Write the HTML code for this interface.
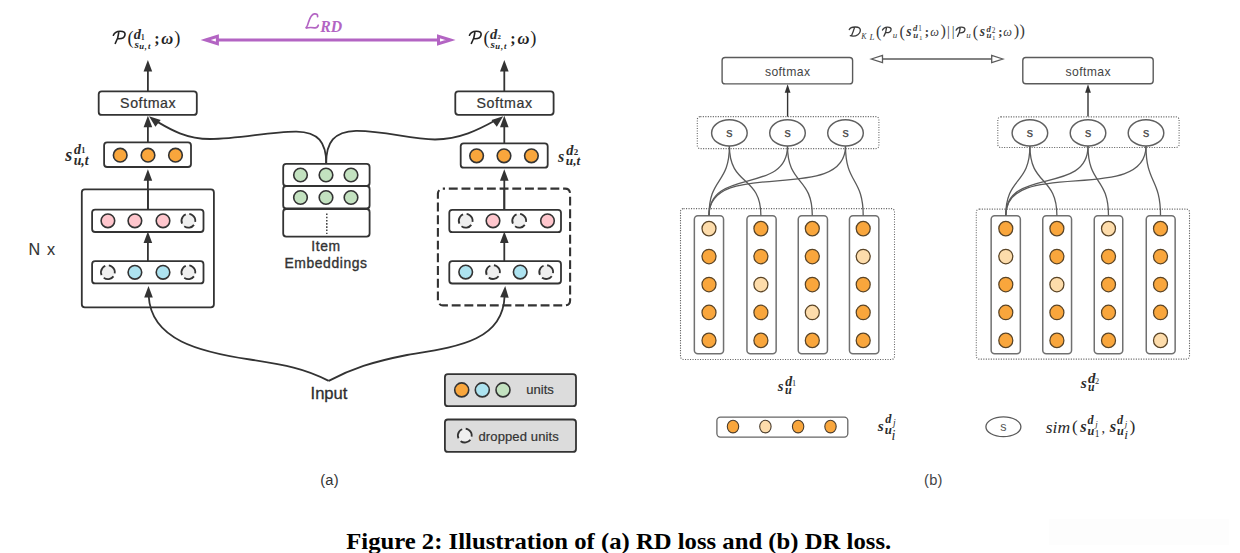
<!DOCTYPE html>
<html><head><meta charset="utf-8"><style>
html,body{margin:0;padding:0;background:#fff;overflow:hidden;}
svg{display:block;}
svg{font-family:"Liberation Sans",sans-serif;}
.sm{font-size:14.2px;text-anchor:middle;fill:#333;letter-spacing:0.6px;stroke:#333;stroke-width:0.22px;}
.ie{font-size:13.9px;text-anchor:middle;fill:#333;letter-spacing:0.6px;stroke:#333;stroke-width:0.35px;}
.inp{font-size:16.6px;text-anchor:middle;fill:#2e2e2e;stroke:#2e2e2e;stroke-width:0.3px;}
.nx{font-size:16.2px;fill:#333;stroke:#333;stroke-width:0.1px;letter-spacing:1.2px;}
.lg{font-size:13px;fill:#333;stroke:#333;stroke-width:0.2px;}
.lab{font-size:14.7px;fill:#333;letter-spacing:0.2px;}
.bsm{font-size:12.2px;text-anchor:middle;fill:#444;letter-spacing:0.4px;}
.bs{font-size:12.5px;text-anchor:middle;fill:#444;stroke:#444;stroke-width:0.25px;}
.mf text{font-family:"Liberation Serif",serif;}
.mf{fill:#222;}
.cap{font-family:"Liberation Serif",serif;font-weight:bold;font-size:23.4px;fill:#000;}
</style></head><body>
<svg width="1240" height="553" viewBox="0 0 1240 553">
<rect x="0" y="0" width="1240" height="553" fill="#fff"/>
<line x1="147.9" y1="91.3" x2="147.9" y2="70" stroke="#333" stroke-width="1.8"/>
<path d="M147.9 60 L143.6 71.5 L152.20000000000002 71.5 Z" fill="#333" transform="rotate(0 147.9 60)"/>
<line x1="147.9" y1="143.3" x2="147.9" y2="125" stroke="#333" stroke-width="1.8"/>
<path d="M147.9 115.8 L143.6 127.3 L152.20000000000002 127.3 Z" fill="#333" transform="rotate(0 147.9 115.8)"/>
<line x1="147.9" y1="209.6" x2="147.9" y2="180" stroke="#333" stroke-width="1.8"/>
<path d="M147.9 169.2 L143.6 180.7 L152.20000000000002 180.7 Z" fill="#333" transform="rotate(0 147.9 169.2)"/>
<line x1="147.9" y1="261.2" x2="147.9" y2="240" stroke="#333" stroke-width="1.8"/>
<path d="M147.9 231.6 L143.6 243.1 L152.20000000000002 243.1 Z" fill="#333" transform="rotate(0 147.9 231.6)"/>
<line x1="504.3" y1="91.3" x2="504.3" y2="70" stroke="#333" stroke-width="1.8"/>
<path d="M504.3 60 L500.0 71.5 L508.6 71.5 Z" fill="#333" transform="rotate(0 504.3 60)"/>
<line x1="504.3" y1="143.3" x2="504.3" y2="125" stroke="#333" stroke-width="1.8"/>
<path d="M504.3 115.8 L500.0 127.3 L508.6 127.3 Z" fill="#333" transform="rotate(0 504.3 115.8)"/>
<line x1="504.3" y1="209.6" x2="504.3" y2="180" stroke="#333" stroke-width="1.8"/>
<path d="M504.3 169.2 L500.0 180.7 L508.6 180.7 Z" fill="#333" transform="rotate(0 504.3 169.2)"/>
<line x1="504.3" y1="261.2" x2="504.3" y2="240" stroke="#333" stroke-width="1.8"/>
<path d="M504.3 231.6 L500.0 243.1 L508.6 243.1 Z" fill="#333" transform="rotate(0 504.3 231.6)"/>
<rect x="98.7" y="91.3" width="98.1" height="23.6" rx="3" fill="#fff" stroke="#333" stroke-width="1.8" />
<rect x="455.3" y="91.3" width="98.3" height="23.5" rx="3" fill="#fff" stroke="#333" stroke-width="1.8" />
<text x="148.20000000000002" y="107.9" class="sm">Softmax</text>
<text x="504.6" y="107.9" class="sm">Softmax</text>
<rect x="104.1" y="142.4" width="86.9" height="24.6" rx="3" fill="#fff" stroke="#333" stroke-width="1.8" />
<rect x="460.7" y="143.3" width="87.0" height="24.4" rx="3" fill="#fff" stroke="#333" stroke-width="1.8" />
<circle cx="120.2" cy="155.2" r="6.8" fill="#F9A63C" stroke="#333" stroke-width="1.6" />
<circle cx="148.0" cy="155.2" r="6.8" fill="#F9A63C" stroke="#333" stroke-width="1.6" />
<circle cx="175.5" cy="155.2" r="6.8" fill="#F9A63C" stroke="#333" stroke-width="1.6" />
<circle cx="476.6" cy="155.8" r="6.8" fill="#F9A63C" stroke="#333" stroke-width="1.6" />
<circle cx="504.0" cy="155.8" r="6.8" fill="#F9A63C" stroke="#333" stroke-width="1.6" />
<circle cx="531.4" cy="155.8" r="6.8" fill="#F9A63C" stroke="#333" stroke-width="1.6" />
<rect x="81.8" y="189.4" width="132.1" height="117.9" rx="3" fill="none" stroke="#333" stroke-width="1.8"/>
<rect x="437.9" y="188.6" width="132.2" height="116.8" rx="5" fill="none" stroke="#333" stroke-width="2.1" stroke-dasharray="8.9 3.8" stroke-dashoffset="6.8"/>
<rect x="92.1" y="209.6" width="111.4" height="22.4" rx="3" fill="#fff" stroke="#333" stroke-width="1.8" />
<rect x="92.1" y="261.2" width="111.4" height="22.2" rx="3" fill="#fff" stroke="#333" stroke-width="1.8" />
<rect x="449.3" y="209.8" width="111.7" height="22.4" rx="3" fill="#fff" stroke="#333" stroke-width="1.8" />
<rect x="449.3" y="261.2" width="111.7" height="22.3" rx="3" fill="#fff" stroke="#333" stroke-width="1.8" />
<line x1="147.9" y1="189" x2="147.9" y2="209.6" stroke="#333" stroke-width="1.8"/>
<line x1="504.3" y1="189" x2="504.3" y2="209.8" stroke="#333" stroke-width="1.8"/>
<circle cx="107.9" cy="220.8" r="6.8" fill="#FFC6CD" stroke="#333" stroke-width="1.6" />
<circle cx="134.9" cy="220.8" r="6.8" fill="#FFC6CD" stroke="#333" stroke-width="1.6" />
<circle cx="163.0" cy="220.8" r="6.8" fill="#FFC6CD" stroke="#333" stroke-width="1.6" />
<circle cx="188.4" cy="220.8" r="6.9" fill="#efefef" stroke="#333" stroke-width="1.8" stroke-dasharray="10.9 3.55" transform="rotate(36 188.4 220.8)"/>
<circle cx="107.9" cy="272.3" r="6.9" fill="#efefef" stroke="#333" stroke-width="1.8" stroke-dasharray="10.9 3.55" transform="rotate(36 107.9 272.3)"/>
<circle cx="134.9" cy="272.3" r="6.8" fill="#ADE3F0" stroke="#333" stroke-width="1.6" />
<circle cx="163.0" cy="272.3" r="6.8" fill="#ADE3F0" stroke="#333" stroke-width="1.6" />
<circle cx="188.4" cy="272.3" r="6.9" fill="#efefef" stroke="#333" stroke-width="1.8" stroke-dasharray="10.9 3.55" transform="rotate(36 188.4 272.3)"/>
<circle cx="465.7" cy="220.8" r="6.9" fill="#efefef" stroke="#333" stroke-width="1.8" stroke-dasharray="10.9 3.55" transform="rotate(36 465.7 220.8)"/>
<circle cx="493.0" cy="220.8" r="6.8" fill="#FFC6CD" stroke="#333" stroke-width="1.6" />
<circle cx="519.2" cy="220.8" r="6.9" fill="#efefef" stroke="#333" stroke-width="1.8" stroke-dasharray="10.9 3.55" transform="rotate(36 519.2 220.8)"/>
<circle cx="547.5" cy="220.8" r="6.8" fill="#FFC6CD" stroke="#333" stroke-width="1.6" />
<circle cx="465.7" cy="272.1" r="6.8" fill="#ADE3F0" stroke="#333" stroke-width="1.6" />
<circle cx="493.0" cy="272.1" r="6.9" fill="#efefef" stroke="#333" stroke-width="1.8" stroke-dasharray="10.9 3.55" transform="rotate(36 493.0 272.1)"/>
<circle cx="520.2" cy="272.1" r="6.8" fill="#ADE3F0" stroke="#333" stroke-width="1.6" />
<circle cx="546.2" cy="272.1" r="6.9" fill="#efefef" stroke="#333" stroke-width="1.8" stroke-dasharray="10.9 3.55" transform="rotate(36 546.2 272.1)"/>
<rect x="283.2" y="163.9" width="86.4" height="22.0" rx="3" fill="#fff" stroke="#333" stroke-width="1.8" />
<rect x="283.2" y="186.0" width="86.4" height="22.5" rx="3" fill="#fff" stroke="#333" stroke-width="1.8" />
<rect x="283.2" y="209.0" width="86.4" height="27.6" rx="3" fill="#fff" stroke="#333" stroke-width="1.8" />
<circle cx="300.5" cy="175.0" r="6.8" fill="#C3E2C0" stroke="#333" stroke-width="1.6" />
<circle cx="326.0" cy="175.0" r="6.8" fill="#C3E2C0" stroke="#333" stroke-width="1.6" />
<circle cx="351.0" cy="175.0" r="6.8" fill="#C3E2C0" stroke="#333" stroke-width="1.6" />
<circle cx="300.5" cy="197.5" r="6.8" fill="#C3E2C0" stroke="#333" stroke-width="1.6" />
<circle cx="326.0" cy="197.5" r="6.8" fill="#C3E2C0" stroke="#333" stroke-width="1.6" />
<circle cx="351.0" cy="197.5" r="6.8" fill="#C3E2C0" stroke="#333" stroke-width="1.6" />
<line x1="326.8" y1="213.5" x2="326.8" y2="234" stroke="#333" stroke-width="1.4" stroke-dasharray="1.6 1.6"/>
<text x="326" y="250.8" class="ie">Item</text>
<text x="326" y="267.7" class="ie">Embeddings</text>
<path d="M326.3 163.9 C326.3 142 318 132 296.5 131.6 C270 131.3 240 139 210 139 C185 139 168 128 156 121" fill="none" stroke="#333" stroke-width="1.8" />
<path d="M326.1 163.9 C326.1 142 334 131.5 356 130.8 C385 130.5 410 139.5 435 139.5 C460 139 478 130 496 120" fill="none" stroke="#333" stroke-width="1.8" />
<path d="M149.0 116.3 L144.7 127.8 L153.3 127.8 Z" fill="#333" transform="rotate(-52 149.0 116.3)"/>
<path d="M503.2 116.3 L498.9 127.8 L507.5 127.8 Z" fill="#333" transform="rotate(52 503.2 116.3)"/>
<path d="M328.7 380.9 C305 368.5 285 365 250 359.5 C200 352 151 340 148.7 296" fill="none" stroke="#333" stroke-width="1.8" />
<path d="M328.7 380.9 C352 368.5 372 362 407 355 C455 347 503 342 504.6 296" fill="none" stroke="#333" stroke-width="1.8" />
<path d="M148.5 286.0 L144.2 297.5 L152.8 297.5 Z" fill="#333" transform="rotate(0 148.5 286.0)"/>
<path d="M505.2 286.0 L500.9 297.5 L509.5 297.5 Z" fill="#333" transform="rotate(4 505.2 286.0)"/>
<text x="329" y="398.5" class="inp">Input</text>
<text x="28.5" y="254.9" class="nx">N x</text>
<rect x="444.9" y="374.2" width="131.1" height="32.0" rx="3" fill="#dcdcdc" stroke="#333" stroke-width="1.8"/>
<rect x="444.9" y="419.5" width="131.1" height="32.4" rx="3" fill="#dcdcdc" stroke="#333" stroke-width="1.8"/>
<circle cx="461.7" cy="389.9" r="7.0" fill="#F9A63C" stroke="#333" stroke-width="1.6" />
<circle cx="482.3" cy="389.9" r="7.0" fill="#ADE3F0" stroke="#333" stroke-width="1.6" />
<circle cx="503.0" cy="389.9" r="7.0" fill="#C3E2C0" stroke="#333" stroke-width="1.6" />
<text x="526.3" y="393.7" class="lg">units</text>
<circle cx="464.8" cy="435.6" r="6.9" fill="#efefef" stroke="#333" stroke-width="1.8" stroke-dasharray="10.9 3.55" transform="rotate(36 464.8 435.6)"/>
<text x="478.5" y="440.9" class="lg" letter-spacing="0.12">dropped units</text>
<text x="320.2" y="485.1" class="lab">(a)</text>
<path d="M113.40 35.20 C114.60 32.40 117.00 31.40 120.00 31.30 C123.80 31.20 125.40 32.60 125.00 34.80 C124.50 37.40 121.60 38.90 118.20 38.70 M118.90 31.80 C118.50 36.20 117.00 40.60 115.30 43.40" fill="none" stroke="#222" stroke-width="1.65" stroke-linecap="round"/>
<g class="mf"><text x="127.39999999999999" y="43.6" font-size="18.4">(</text><text x="154.2" y="44.2" font-size="16" font-weight="bold">;</text><text x="161.3" y="43.6" font-size="16.5" font-style="italic" font-weight="bold">ω</text><text x="174.2" y="43.7" font-size="18.4">)</text></g>
<text x="133.86" y="39.06" font-size="14.47" font-family="Liberation Serif" font-weight="bold" font-style="italic" fill="#2b2b2b">d</text>
<text x="141.03" y="39.64" font-size="7.18" font-family="Liberation Serif" font-weight="bold" font-style="normal" fill="#2b2b2b">1</text>
<text x="134.46" y="48.23" font-size="11.33" font-family="Liberation Serif" font-weight="bold" font-style="italic" fill="#2b2b2b">s</text>
<text x="139.20" y="49.3" font-size="8.6" font-family="Liberation Serif" font-style="italic" font-weight="bold" fill="#222" letter-spacing="0.9">u,t</text>
<path d="M469.50 35.20 C470.70 32.40 473.10 31.40 476.10 31.30 C479.90 31.20 481.50 32.60 481.10 34.80 C480.60 37.40 477.70 38.90 474.30 38.70 M475.00 31.80 C474.60 36.20 473.10 40.60 471.40 43.40" fill="none" stroke="#222" stroke-width="1.65" stroke-linecap="round"/>
<g class="mf"><text x="483.5" y="43.6" font-size="18.4">(</text><text x="510.29999999999995" y="44.2" font-size="16" font-weight="bold">;</text><text x="517.4" y="43.6" font-size="16.5" font-style="italic" font-weight="bold">ω</text><text x="530.3" y="43.7" font-size="18.4">)</text></g>
<text x="489.96" y="39.06" font-size="14.47" font-family="Liberation Serif" font-weight="bold" font-style="italic" fill="#2b2b2b">d</text>
<text x="497.43" y="39.36" font-size="6.75" font-family="Liberation Serif" font-weight="bold" font-style="normal" fill="#2b2b2b">2</text>
<text x="490.56" y="48.23" font-size="11.33" font-family="Liberation Serif" font-weight="bold" font-style="italic" fill="#2b2b2b">s</text>
<text x="495.30" y="49.3" font-size="8.6" font-family="Liberation Serif" font-style="italic" font-weight="bold" fill="#222" letter-spacing="0.9">u,t</text>
<line x1="214" y1="40" x2="441" y2="40" stroke="#B364C3" stroke-width="3"/>
<path d="M205.6 40 L217.4 36.3 L217.4 43.7 Z" fill="#fff" stroke="#B364C3" stroke-width="3" stroke-linejoin="miter"/>
<path d="M450.5 40 L438.5 36.3 L438.5 43.7 Z" fill="#fff" stroke="#B364C3" stroke-width="3" stroke-linejoin="miter"/>
<path d="M317.6 16.6 C317.9 14.4 316.2 13.6 314.3 13.9 C311.2 14.4 309.6 18.6 308.4 22.6 C307.8 25.1 307.1 27.0 305.7 28.2 C308.2 27.4 311.2 27.3 314.6 27.8 C316.6 28.1 317.8 26.6 318.3 25.2" fill="none" stroke="#B364C3" stroke-width="1.7" stroke-linecap="round"/>
<text x="320.3" y="31.8" font-size="15.8" font-weight="bold" font-style="italic" fill="#B364C3" font-family="Liberation Serif">RD</text>
<text x="65.19" y="160.82" font-size="17.92" font-family="Liberation Serif" font-weight="bold" font-style="italic" fill="#2b2b2b">s</text>
<text x="74.06" y="153.66" font-size="13.9" font-family="Liberation Serif" font-weight="bold" font-style="italic" fill="#2b2b2b">d</text>
<text x="81.23" y="153.3" font-size="8.33" font-family="Liberation Serif" font-weight="bold" font-style="normal" fill="#2b2b2b">1</text>
<text x="73.65" y="164.79" font-size="13.78" font-family="Liberation Serif" font-weight="bold" font-style="italic" fill="#2b2b2b">u,t</text>
<text x="558.08" y="161.76" font-size="16.09" font-family="Liberation Serif" font-weight="bold" font-style="italic" fill="#2b2b2b">s</text>
<text x="566.16" y="154.76" font-size="14.33" font-family="Liberation Serif" font-weight="bold" font-style="italic" fill="#2b2b2b">d</text>
<text x="573.84" y="154.89" font-size="8.93" font-family="Liberation Serif" font-weight="bold" font-style="normal" fill="#2b2b2b">2</text>
<text x="565.77" y="164.94" font-size="13.35" font-family="Liberation Serif" font-weight="bold" font-style="italic" fill="#2b2b2b">u,t</text>
<rect x="722.1" y="57.5" width="130.5" height="26.4" rx="3" fill="#fff" stroke="#5a5a5a" stroke-width="1.4" />
<text x="787.65" y="75.8" class="bsm">softmax</text>
<line x1="787.6" y1="116.6" x2="787.6" y2="91" stroke="#333" stroke-width="1.4"/>
<path d="M787.6 84.3 L784.7 92.8 L790.5 92.8 Z" fill="#333"/>
<rect x="697.3" y="116.6" width="181.6" height="32.0" rx="3" fill="none" stroke="#666" stroke-width="1.1" stroke-dasharray="1.1 1.4"/>
<rect x="680.5" y="208.6" width="214.0" height="150.9" rx="3" fill="none" stroke="#666" stroke-width="1.1" stroke-dasharray="1.1 1.4"/>
<rect x="694.35" y="215.75" width="29.199999999999932" height="137.9" rx="3.5" fill="#fff" stroke="#707070" stroke-width="1.5" />
<rect x="746.95" y="215.75" width="29.199999999999932" height="137.9" rx="3.5" fill="#fff" stroke="#707070" stroke-width="1.5" />
<rect x="798.25" y="215.75" width="29.200000000000045" height="137.9" rx="3.5" fill="#fff" stroke="#707070" stroke-width="1.5" />
<rect x="849.45" y="215.75" width="29.399999999999977" height="137.9" rx="3.5" fill="#fff" stroke="#707070" stroke-width="1.5" />
<path d="M729.4 146 C729.4 184.7 709.0 176.9 709.0 215.6" fill="none" stroke="#5a5a5a" stroke-width="1.3"/>
<path d="M729.4 146 C729.4 186.7 760.9 174.9 760.9 215.6" fill="none" stroke="#5a5a5a" stroke-width="1.3"/>
<path d="M787.5 146 C787.5 195.1 709.0 166.5 709.0 215.6" fill="none" stroke="#5a5a5a" stroke-width="1.3"/>
<path d="M787.5 146 C787.5 185.5 812.3 176.1 812.3 215.6" fill="none" stroke="#5a5a5a" stroke-width="1.3"/>
<path d="M845.5 146 C845.5 205.6 709.0 156.0 709.0 215.6" fill="none" stroke="#5a5a5a" stroke-width="1.3"/>
<path d="M845.5 146 C845.5 184.2 863.2 177.4 863.2 215.6" fill="none" stroke="#5a5a5a" stroke-width="1.3"/>
<ellipse cx="729.4" cy="132.9" rx="17.8" ry="13.1" fill="#fff" stroke="#606060" stroke-width="1.45"/>
<text x="729.4" y="137" class="bs">s</text>
<ellipse cx="787.5" cy="132.9" rx="17.8" ry="13.1" fill="#fff" stroke="#606060" stroke-width="1.45"/>
<text x="787.5" y="137" class="bs">s</text>
<ellipse cx="845.5" cy="132.9" rx="17.8" ry="13.1" fill="#fff" stroke="#606060" stroke-width="1.45"/>
<text x="845.5" y="137" class="bs">s</text>
<ellipse cx="709.0" cy="228.6" rx="7.0" ry="7.25" fill="#FDDCAB" stroke="#5a4426" stroke-width="1.25"/>
<ellipse cx="709.0" cy="256.55" rx="7.0" ry="7.25" fill="#F9A63C" stroke="#5a4426" stroke-width="1.25"/>
<ellipse cx="709.0" cy="284.5" rx="7.0" ry="7.25" fill="#F9A63C" stroke="#5a4426" stroke-width="1.25"/>
<ellipse cx="709.0" cy="312.45" rx="7.0" ry="7.25" fill="#F9A63C" stroke="#5a4426" stroke-width="1.25"/>
<ellipse cx="709.0" cy="340.4" rx="7.0" ry="7.25" fill="#F9A63C" stroke="#5a4426" stroke-width="1.25"/>
<ellipse cx="760.9" cy="228.6" rx="7.0" ry="7.25" fill="#F9A63C" stroke="#5a4426" stroke-width="1.25"/>
<ellipse cx="760.9" cy="256.55" rx="7.0" ry="7.25" fill="#F9A63C" stroke="#5a4426" stroke-width="1.25"/>
<ellipse cx="760.9" cy="284.5" rx="7.0" ry="7.25" fill="#FDDCAB" stroke="#5a4426" stroke-width="1.25"/>
<ellipse cx="760.9" cy="312.45" rx="7.0" ry="7.25" fill="#F9A63C" stroke="#5a4426" stroke-width="1.25"/>
<ellipse cx="760.9" cy="340.4" rx="7.0" ry="7.25" fill="#F9A63C" stroke="#5a4426" stroke-width="1.25"/>
<ellipse cx="812.3" cy="228.6" rx="7.0" ry="7.25" fill="#F9A63C" stroke="#5a4426" stroke-width="1.25"/>
<ellipse cx="812.3" cy="256.55" rx="7.0" ry="7.25" fill="#F9A63C" stroke="#5a4426" stroke-width="1.25"/>
<ellipse cx="812.3" cy="284.5" rx="7.0" ry="7.25" fill="#F9A63C" stroke="#5a4426" stroke-width="1.25"/>
<ellipse cx="812.3" cy="312.45" rx="7.0" ry="7.25" fill="#FDDCAB" stroke="#5a4426" stroke-width="1.25"/>
<ellipse cx="812.3" cy="340.4" rx="7.0" ry="7.25" fill="#F9A63C" stroke="#5a4426" stroke-width="1.25"/>
<ellipse cx="863.2" cy="228.6" rx="7.0" ry="7.25" fill="#F9A63C" stroke="#5a4426" stroke-width="1.25"/>
<ellipse cx="863.2" cy="256.55" rx="7.0" ry="7.25" fill="#FDDCAB" stroke="#5a4426" stroke-width="1.25"/>
<ellipse cx="863.2" cy="284.5" rx="7.0" ry="7.25" fill="#F9A63C" stroke="#5a4426" stroke-width="1.25"/>
<ellipse cx="863.2" cy="312.45" rx="7.0" ry="7.25" fill="#F9A63C" stroke="#5a4426" stroke-width="1.25"/>
<ellipse cx="863.2" cy="340.4" rx="7.0" ry="7.25" fill="#F9A63C" stroke="#5a4426" stroke-width="1.25"/>
<rect x="1022.8" y="57.5" width="130.4" height="26.2" rx="3" fill="#fff" stroke="#5a5a5a" stroke-width="1.4" />
<text x="1088.3" y="75.8" class="bsm">softmax</text>
<line x1="1088.0" y1="116.6" x2="1088.0" y2="91" stroke="#333" stroke-width="1.4"/>
<path d="M1088.0 84.3 L1085.1 92.8 L1090.9 92.8 Z" fill="#333"/>
<rect x="997.8" y="116.9" width="181.3" height="30.6" rx="3" fill="none" stroke="#666" stroke-width="1.1" stroke-dasharray="1.1 1.4"/>
<rect x="976.3" y="209.1" width="213.2" height="150.0" rx="3" fill="none" stroke="#666" stroke-width="1.1" stroke-dasharray="1.1 1.4"/>
<rect x="991.15" y="215.75" width="29.200000000000045" height="137.9" rx="3.5" fill="#fff" stroke="#707070" stroke-width="1.5" />
<rect x="1042.75" y="215.75" width="28.799999999999955" height="137.9" rx="3.5" fill="#fff" stroke="#707070" stroke-width="1.5" />
<rect x="1094.25" y="215.75" width="28.5" height="137.9" rx="3.5" fill="#fff" stroke="#707070" stroke-width="1.5" />
<rect x="1146.25" y="215.75" width="28.90000000000009" height="137.9" rx="3.5" fill="#fff" stroke="#707070" stroke-width="1.5" />
<path d="M1029.9 146 C1029.9 185.3 1005.8 176.3 1005.8 215.6" fill="none" stroke="#5a5a5a" stroke-width="1.3"/>
<path d="M1029.9 146 C1029.9 185.9 1056.9 175.7 1056.9 215.6" fill="none" stroke="#5a5a5a" stroke-width="1.3"/>
<path d="M1088.0 146 C1088.0 195.8 1005.8 165.8 1005.8 215.6" fill="none" stroke="#5a5a5a" stroke-width="1.3"/>
<path d="M1088.0 146 C1088.0 184.7 1108.5 176.9 1108.5 215.6" fill="none" stroke="#5a5a5a" stroke-width="1.3"/>
<path d="M1146.0 146 C1146.0 206.2 1005.8 155.4 1005.8 215.6" fill="none" stroke="#5a5a5a" stroke-width="1.3"/>
<path d="M1146.0 146 C1146.0 183.6 1160.5 178.0 1160.5 215.6" fill="none" stroke="#5a5a5a" stroke-width="1.3"/>
<ellipse cx="1029.9" cy="132.9" rx="17.8" ry="13.1" fill="#fff" stroke="#606060" stroke-width="1.45"/>
<text x="1029.9" y="137" class="bs">s</text>
<ellipse cx="1088.0" cy="132.9" rx="17.8" ry="13.1" fill="#fff" stroke="#606060" stroke-width="1.45"/>
<text x="1088.0" y="137" class="bs">s</text>
<ellipse cx="1146.0" cy="132.9" rx="17.8" ry="13.1" fill="#fff" stroke="#606060" stroke-width="1.45"/>
<text x="1146.0" y="137" class="bs">s</text>
<ellipse cx="1005.8" cy="228.6" rx="7.0" ry="7.25" fill="#F9A63C" stroke="#5a4426" stroke-width="1.25"/>
<ellipse cx="1005.8" cy="256.55" rx="7.0" ry="7.25" fill="#FDDCAB" stroke="#5a4426" stroke-width="1.25"/>
<ellipse cx="1005.8" cy="284.5" rx="7.0" ry="7.25" fill="#F9A63C" stroke="#5a4426" stroke-width="1.25"/>
<ellipse cx="1005.8" cy="312.45" rx="7.0" ry="7.25" fill="#F9A63C" stroke="#5a4426" stroke-width="1.25"/>
<ellipse cx="1005.8" cy="340.4" rx="7.0" ry="7.25" fill="#F9A63C" stroke="#5a4426" stroke-width="1.25"/>
<ellipse cx="1056.9" cy="228.6" rx="7.0" ry="7.25" fill="#F9A63C" stroke="#5a4426" stroke-width="1.25"/>
<ellipse cx="1056.9" cy="256.55" rx="7.0" ry="7.25" fill="#F9A63C" stroke="#5a4426" stroke-width="1.25"/>
<ellipse cx="1056.9" cy="284.5" rx="7.0" ry="7.25" fill="#FDDCAB" stroke="#5a4426" stroke-width="1.25"/>
<ellipse cx="1056.9" cy="312.45" rx="7.0" ry="7.25" fill="#F9A63C" stroke="#5a4426" stroke-width="1.25"/>
<ellipse cx="1056.9" cy="340.4" rx="7.0" ry="7.25" fill="#F9A63C" stroke="#5a4426" stroke-width="1.25"/>
<ellipse cx="1108.5" cy="228.6" rx="7.0" ry="7.25" fill="#FDDCAB" stroke="#5a4426" stroke-width="1.25"/>
<ellipse cx="1108.5" cy="256.55" rx="7.0" ry="7.25" fill="#F9A63C" stroke="#5a4426" stroke-width="1.25"/>
<ellipse cx="1108.5" cy="284.5" rx="7.0" ry="7.25" fill="#F9A63C" stroke="#5a4426" stroke-width="1.25"/>
<ellipse cx="1108.5" cy="312.45" rx="7.0" ry="7.25" fill="#F9A63C" stroke="#5a4426" stroke-width="1.25"/>
<ellipse cx="1108.5" cy="340.4" rx="7.0" ry="7.25" fill="#F9A63C" stroke="#5a4426" stroke-width="1.25"/>
<ellipse cx="1160.5" cy="228.6" rx="7.0" ry="7.25" fill="#F9A63C" stroke="#5a4426" stroke-width="1.25"/>
<ellipse cx="1160.5" cy="256.55" rx="7.0" ry="7.25" fill="#F9A63C" stroke="#5a4426" stroke-width="1.25"/>
<ellipse cx="1160.5" cy="284.5" rx="7.0" ry="7.25" fill="#F9A63C" stroke="#5a4426" stroke-width="1.25"/>
<ellipse cx="1160.5" cy="312.45" rx="7.0" ry="7.25" fill="#F9A63C" stroke="#5a4426" stroke-width="1.25"/>
<ellipse cx="1160.5" cy="340.4" rx="7.0" ry="7.25" fill="#FDDCAB" stroke="#5a4426" stroke-width="1.25"/>
<line x1="882.5" y1="59" x2="991.7" y2="59" stroke="#5a5a5a" stroke-width="1.3"/>
<path d="M871.3 59 L882.5 55.3 L882.5 62.7 Z" fill="#fff" stroke="#5a5a5a" stroke-width="1.3"/>
<path d="M1002.9 59 L991.7 55.3 L991.7 62.7 Z" fill="#fff" stroke="#5a5a5a" stroke-width="1.3"/>
<rect x="716.9" y="417.1" width="130.9" height="20.0" rx="3.5" fill="#fff" stroke="#666" stroke-width="1.3" />
<ellipse cx="733" cy="426.6" rx="5.7" ry="6.3" fill="#F9A63C" stroke="#4a3c2c" stroke-width="1.1"/>
<ellipse cx="765.4" cy="426.6" rx="5.7" ry="6.3" fill="#FDDCAB" stroke="#4a3c2c" stroke-width="1.1"/>
<ellipse cx="798.1" cy="426.6" rx="5.7" ry="6.3" fill="#F9A63C" stroke="#4a3c2c" stroke-width="1.1"/>
<ellipse cx="830.5" cy="426.6" rx="5.7" ry="6.3" fill="#F9A63C" stroke="#4a3c2c" stroke-width="1.1"/>
<ellipse cx="1003.4" cy="426.8" rx="17.5" ry="9.9" fill="#fff" stroke="#5a5a5a" stroke-width="1.3"/>
<text x="1003.4" y="431" class="bs" style="fill:#555;stroke:none">s</text>
<text x="924.1" y="485.1" class="lab" fill="#444" style="fill:#444">(b)</text>
<path d="M849.3 29.6 C850.1 27.8 852.1 27.1 855.1 27.0 C859.1 26.9 860.7 28.5 860.3 31.0 C859.9 34.0 856.6 36.2 852.9 36.1 C851.6 36.1 850.7 35.9 850.3 35.7 M854.6 27.4 C853.6 30.5 852.5 33.5 851.5 35.7" fill="none" stroke="#3a3a3a" stroke-width="1.35" stroke-linecap="round"/>
<text x="861.18" y="38.97" font-size="7.89" font-family="Liberation Serif" font-weight="normal" font-style="italic" fill="#3a3a3a">K</text>
<text x="869.39" y="39.63" font-size="8.9" font-family="Liberation Serif" font-weight="normal" font-style="italic" fill="#3a3a3a">L</text>
<text x="876.08" y="36.55" font-size="16.04" font-family="Liberation Serif" font-weight="normal" font-style="normal" fill="#3a3a3a">(</text>
<path d="M882.47 30.08 C883.36 28.01 885.14 27.27 887.36 27.20 C890.17 27.12 891.35 28.16 891.06 29.79 C890.69 31.71 888.54 32.82 886.03 32.67 M886.54 27.57 C886.25 30.82 885.14 34.08 883.88 36.15" fill="none" stroke="#3a3a3a" stroke-width="1.3" stroke-linecap="round"/>
<text x="892.85" y="38.31" font-size="8.94" font-family="Liberation Serif" font-weight="normal" font-style="italic" fill="#3a3a3a">u</text>
<text x="899.48" y="36.55" font-size="16.04" font-family="Liberation Serif" font-weight="normal" font-style="normal" fill="#3a3a3a">(</text>
<text x="906.37" y="35.96" font-size="13.54" font-family="Liberation Serif" font-weight="bold" font-style="italic" fill="#3a3a3a">s</text>
<text x="913.11" y="30.61" font-size="8.65" font-family="Liberation Serif" font-weight="bold" font-style="italic" fill="#3a3a3a">d</text>
<text x="918.15" y="31.24" font-size="7.18" font-family="Liberation Serif" font-weight="normal" font-style="normal" fill="#3a3a3a">1</text>
<text x="913.24" y="37.51" font-size="8.94" font-family="Liberation Serif" font-weight="bold" font-style="italic" fill="#3a3a3a">u</text>
<text x="918.97" y="40.14" font-size="7.03" font-family="Liberation Serif" font-weight="normal" font-style="normal" fill="#3a3a3a">1</text>
<text x="924.86" y="35.82" font-size="12.8" font-family="Liberation Serif" font-weight="bold" font-style="normal" fill="#3a3a3a">;</text>
<text x="930.37" y="35.98" font-size="12.29" font-family="Liberation Serif" font-weight="normal" font-style="italic" fill="#3a3a3a">ω</text>
<text x="940.41" y="36.39" font-size="16.22" font-family="Liberation Serif" font-weight="normal" font-style="normal" fill="#3a3a3a">)</text>
<text x="947.04" y="36.35" font-size="14.18" font-family="Liberation Serif" font-weight="normal" font-style="normal" fill="#3a3a3a">|</text>
<text x="951.64" y="36.35" font-size="14.18" font-family="Liberation Serif" font-weight="normal" font-style="normal" fill="#3a3a3a">|</text>
<path d="M956.08 30.17 C956.99 28.04 958.81 27.28 961.09 27.20 C963.98 27.13 965.20 28.19 964.89 29.86 C964.51 31.84 962.31 32.98 959.72 32.83 M960.26 27.58 C959.95 30.93 958.81 34.27 957.52 36.40" fill="none" stroke="#3a3a3a" stroke-width="1.3" stroke-linecap="round"/>
<text x="966.25" y="38.31" font-size="8.94" font-family="Liberation Serif" font-weight="normal" font-style="italic" fill="#3a3a3a">u</text>
<text x="972.78" y="36.55" font-size="16.04" font-family="Liberation Serif" font-weight="normal" font-style="normal" fill="#3a3a3a">(</text>
<text x="979.67" y="35.96" font-size="13.54" font-family="Liberation Serif" font-weight="bold" font-style="italic" fill="#3a3a3a">s</text>
<text x="986.41" y="32.01" font-size="8.65" font-family="Liberation Serif" font-weight="bold" font-style="italic" fill="#3a3a3a">d</text>
<text x="991.67" y="32.72" font-size="7.31" font-family="Liberation Serif" font-weight="normal" font-style="normal" fill="#3a3a3a">2</text>
<text x="986.54" y="37.51" font-size="8.94" font-family="Liberation Serif" font-weight="bold" font-style="italic" fill="#3a3a3a">u</text>
<text x="991.98" y="40.05" font-size="6.89" font-family="Liberation Serif" font-weight="normal" font-style="normal" fill="#3a3a3a">1</text>
<text x="998.36" y="35.82" font-size="12.8" font-family="Liberation Serif" font-weight="bold" font-style="normal" fill="#3a3a3a">;</text>
<text x="1003.37" y="35.98" font-size="12.29" font-family="Liberation Serif" font-weight="normal" font-style="italic" fill="#3a3a3a">ω</text>
<text x="1013.81" y="36.39" font-size="16.22" font-family="Liberation Serif" font-weight="normal" font-style="normal" fill="#3a3a3a">)</text>
<text x="1019.41" y="36.39" font-size="16.22" font-family="Liberation Serif" font-weight="normal" font-style="normal" fill="#3a3a3a">)</text>
<text x="777.77" y="391.11" font-size="14.71" font-family="Liberation Serif" font-weight="bold" font-style="italic" fill="#2b2b2b">s</text>
<text x="785.16" y="385.86" font-size="13.9" font-family="Liberation Serif" font-weight="bold" font-style="italic" fill="#2b2b2b">d</text>
<text x="792.05" y="386.0" font-size="8.33" font-family="Liberation Serif" font-weight="normal" font-style="normal" fill="#2b2b2b">1</text>
<text x="785.11" y="393.78" font-size="12.13" font-family="Liberation Serif" font-weight="bold" font-style="italic" fill="#2b2b2b">u</text>
<text x="1080.68" y="388.3" font-size="15.54" font-family="Liberation Serif" font-weight="bold" font-style="italic" fill="#2b2b2b">s</text>
<text x="1088.05" y="383.35" font-size="14.89" font-family="Liberation Serif" font-weight="bold" font-style="italic" fill="#2b2b2b">d</text>
<text x="1095.12" y="383.5" font-size="8.33" font-family="Liberation Serif" font-weight="normal" font-style="normal" fill="#2b2b2b">2</text>
<text x="1088.03" y="390.68" font-size="11.7" font-family="Liberation Serif" font-weight="bold" font-style="italic" fill="#2b2b2b">u</text>
<text x="877.78" y="431.37" font-size="15.26" font-family="Liberation Serif" font-weight="bold" font-style="italic" fill="#2b2b2b">s</text>
<text x="885.18" y="423.01" font-size="12.39" font-family="Liberation Serif" font-weight="bold" font-style="italic" fill="#2b2b2b">d</text>
<text x="892.9" y="425.79" font-size="9.53" font-family="Liberation Serif" font-weight="normal" font-style="italic" fill="#2b2b2b">j</text>
<text x="884.79" y="434.11" font-size="12.86" font-family="Liberation Serif" font-weight="bold" font-style="italic" fill="#2b2b2b">u</text>
<text x="891.62" y="439.65" font-size="14.17" font-family="Liberation Serif" font-weight="normal" font-style="italic" fill="#2b2b2b">i</text>
<text x="1045.74" y="433.1" font-size="17.57" font-family="Liberation Serif" font-weight="normal" font-style="italic" fill="#2b2b2b">sim</text>
<text x="1071.92" y="431.89" font-size="17.25" font-family="Liberation Serif" font-weight="normal" font-style="normal" fill="#2b2b2b">(</text>
<text x="1080.18" y="432.31" font-size="16.41" font-family="Liberation Serif" font-weight="bold" font-style="italic" fill="#2b2b2b">s</text>
<text x="1087.58" y="423.65" font-size="12.16" font-family="Liberation Serif" font-weight="bold" font-style="italic" fill="#2b2b2b">d</text>
<text x="1095.13" y="426.75" font-size="8.86" font-family="Liberation Serif" font-weight="normal" font-style="italic" fill="#2b2b2b">j</text>
<text x="1087.41" y="434.92" font-size="12.21" font-family="Liberation Serif" font-weight="bold" font-style="italic" fill="#2b2b2b">u</text>
<text x="1094.65" y="436.86" font-size="9.49" font-family="Liberation Serif" font-weight="normal" font-style="normal" fill="#2b2b2b">1</text>
<text x="1109.68" y="432.31" font-size="16.41" font-family="Liberation Serif" font-weight="bold" font-style="italic" fill="#2b2b2b">s</text>
<text x="1117.08" y="423.65" font-size="12.16" font-family="Liberation Serif" font-weight="bold" font-style="italic" fill="#2b2b2b">d</text>
<text x="1124.63" y="426.75" font-size="8.86" font-family="Liberation Serif" font-weight="normal" font-style="italic" fill="#2b2b2b">j</text>
<text x="1116.91" y="434.92" font-size="12.21" font-family="Liberation Serif" font-weight="bold" font-style="italic" fill="#2b2b2b">u</text>
<text x="1124.26" y="439.48" font-size="13.46" font-family="Liberation Serif" font-weight="normal" font-style="italic" fill="#2b2b2b">i</text>
<text x="1101.44" y="432.68" font-size="14.12" font-family="Liberation Serif" font-weight="normal" font-style="normal" fill="#2b2b2b">,</text>
<text x="1129.48" y="431.94" font-size="17.44" font-family="Liberation Serif" font-weight="normal" font-style="normal" fill="#2b2b2b">)</text>
<rect x="1049" y="518.7" width="180" height="26" fill="#fdfdfd"/>
<text x="346.2" y="548.8" class="cap" textLength="545" lengthAdjust="spacingAndGlyphs">Figure 2: Illustration of (a) RD loss and (b) DR loss.</text>
</svg>
</body></html>
